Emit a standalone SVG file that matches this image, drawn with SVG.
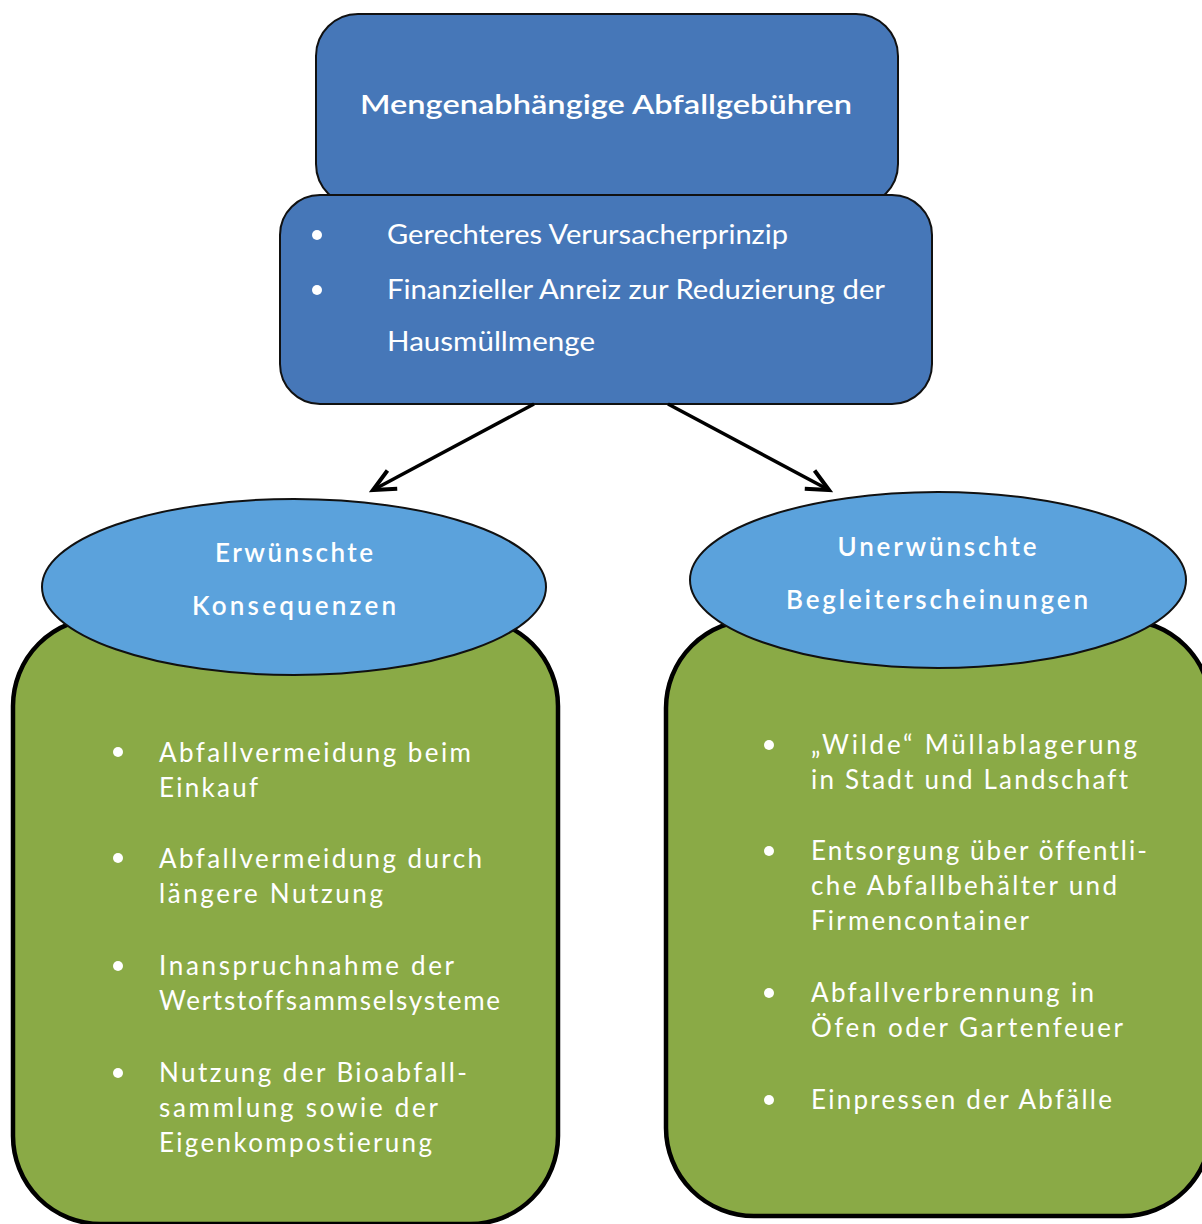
<svg xmlns="http://www.w3.org/2000/svg" width="1202" height="1224" viewBox="0 0 1202 1224">
<style>
.blue{fill:#4677b8;stroke:#111;stroke-width:2}
.ell{fill:#5ba2dc;stroke:#111;stroke-width:2}
.green{fill:#8aaa46;stroke:#000;stroke-width:4.5}
.t{font-family:Lato,"Liberation Sans",sans-serif;fill:#fff;font-size:26px;font-variant-ligatures:none}
.h{font-weight:600;font-size:26px}
.c{text-anchor:middle}
.con{stroke:#000;stroke-width:3.5;fill:none}
</style>
<defs>
<marker id="ah" markerUnits="userSpaceOnUse" markerWidth="30" markerHeight="30" viewBox="-22 -12 26 24" refX="0" refY="0" orient="auto">
<path d="M-19,-9 L0,0 L-19,9" fill="none" stroke="#000" stroke-width="3.5"/>
</marker>
</defs>
<g id="node-top">
<rect class="blue" x="316" y="14" width="582" height="192" rx="42"/>
<text class="t h c" x="606" y="114" textLength="492" lengthAdjust="spacingAndGlyphs">Mengenabhängige Abfallgebühren</text>
</g>
<g id="node-vorteile">
<rect class="blue" x="280" y="195" width="652" height="209" rx="40"/>
<circle cx="317" cy="235" r="5" fill="#fff"/>
<circle cx="317" cy="290" r="5" fill="#fff"/>
<text class="t" x="387" y="244" textLength="401" lengthAdjust="spacingAndGlyphs">Gerechteres Verursacherprinzip</text>
<text class="t" x="387" y="299" textLength="498" lengthAdjust="spacingAndGlyphs">Finanzieller Anreiz zur Reduzierung der</text>
<text class="t" x="387" y="351" textLength="208" lengthAdjust="spacingAndGlyphs">Hausmüllmenge</text>
</g>
<g id="connectors">
<line class="con" x1="534" y1="404" x2="373" y2="490" marker-end="url(#ah)"/>
<line class="con" x1="668" y1="404" x2="829" y2="490" marker-end="url(#ah)"/>
</g>
<g id="node-erwuenscht">
<rect class="green" x="13" y="618" width="545" height="606" rx="88"/>
<ellipse class="ell" cx="294" cy="587" rx="252" ry="88"/>
<text class="t h c" x="294" y="562" textLength="158" lengthAdjust="spacing">Erwünschte</text>
<text class="t h c" x="294" y="615" textLength="204" lengthAdjust="spacing">Konsequenzen</text>
<g fill="#fff">
<circle cx="118" cy="752" r="5"/>
<circle cx="118" cy="858" r="5"/>
<circle cx="118" cy="966" r="5"/>
<circle cx="118" cy="1073" r="5"/>
</g>
<text class="t" x="159" y="762" textLength="312" lengthAdjust="spacing">Abfallvermeidung beim</text>
<text class="t" x="159" y="797" textLength="99" lengthAdjust="spacing">Einkauf</text>
<text class="t" x="159" y="868" textLength="323" lengthAdjust="spacing">Abfallvermeidung durch</text>
<text class="t" x="159" y="903" textLength="224" lengthAdjust="spacing">längere Nutzung</text>
<text class="t" x="159" y="975" textLength="295" lengthAdjust="spacing">Inanspruchnahme der</text>
<text class="t" x="159" y="1010" textLength="341" lengthAdjust="spacing">Wertstoffsammselsysteme</text>
<text class="t" x="159" y="1082" textLength="308" lengthAdjust="spacing">Nutzung der Bioabfall-</text>
<text class="t" x="159" y="1117" textLength="279" lengthAdjust="spacing">sammlung sowie der</text>
<text class="t" x="159" y="1152" textLength="273" lengthAdjust="spacing">Eigenkompostierung</text>
</g>
<g id="node-unerwuenscht">
<rect class="green" x="666" y="620" width="545" height="596" rx="88"/>
<ellipse class="ell" cx="938" cy="580" rx="248" ry="88"/>
<text class="t h c" x="937" y="556" textLength="199" lengthAdjust="spacing">Unerwünschte</text>
<text class="t h c" x="937" y="609" textLength="302" lengthAdjust="spacing">Begleiterscheinungen</text>
<g fill="#fff">
<circle cx="769" cy="745" r="5"/>
<circle cx="769" cy="851" r="5"/>
<circle cx="769" cy="993" r="5"/>
<circle cx="769" cy="1100" r="5"/>
</g>
<text class="t" x="811" y="754" textLength="326" lengthAdjust="spacing">„Wilde“ Müllablagerung</text>
<text class="t" x="811" y="789" textLength="317" lengthAdjust="spacing">in Stadt und Landschaft</text>
<text class="t" x="811" y="860" textLength="336" lengthAdjust="spacing">Entsorgung über öffentli-</text>
<text class="t" x="811" y="895" textLength="306" lengthAdjust="spacing">che Abfallbehälter und</text>
<text class="t" x="811" y="930" textLength="218" lengthAdjust="spacing">Firmencontainer</text>
<text class="t" x="811" y="1002" textLength="283" lengthAdjust="spacing">Abfallverbrennung in</text>
<text class="t" x="811" y="1037" textLength="312" lengthAdjust="spacing">Öfen oder Gartenfeuer</text>
<text class="t" x="811" y="1109" textLength="301" lengthAdjust="spacing">Einpressen der Abfälle</text>
</g>
</svg>
